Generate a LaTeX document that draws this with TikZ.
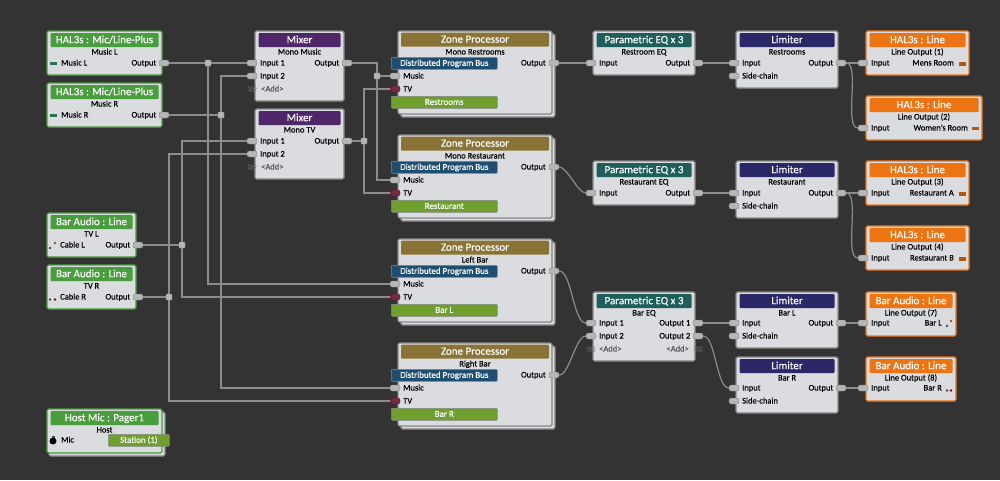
\documentclass[tikz,border=0pt]{standalone}
\usepackage{fontspec}
\setmainfont[FakeBold=0.25]{Carlito}
\usetikzlibrary{patterns}
\definecolor{backdrop}{HTML}{333333}
\definecolor{panel}{HTML}{DADCE0}
\definecolor{rim}{HTML}{858585}
\definecolor{wire}{HTML}{8C8C8C}
\definecolor{plug}{HTML}{B4B6B8}
\definecolor{halgreen}{HTML}{489D3C}
\definecolor{hotorange}{HTML}{EC7412}
\definecolor{mixpurple}{HTML}{4F2768}
\definecolor{zonegold}{HTML}{8A7435}
\definecolor{eqteal}{HTML}{1F5F5B}
\definecolor{limnavy}{HTML}{2B2868}
\definecolor{busblue}{HTML}{1F4E70}
\definecolor{zonegreen}{HTML}{6F9F2C}
\definecolor{tvred}{HTML}{7A2A42}
\newcommand{\halmic}{HAL3s : Mic/Line-Plus}
\begin{document}
\begin{tikzpicture}[
        x=1pt,y=-1pt,
        blockbox/.style={rectangle,anchor=north west,fill=panel,line width=1.3pt,rounded corners=1.5pt,inner sep=0pt,outer sep=0pt},
        headbar/.style={rectangle,anchor=north,rounded corners=1pt,inner sep=0pt,minimum height=14pt,text=white,font=\fontsize{11}{11}\selectfont,text height=7.5pt,text depth=1.5pt},
        subtext/.style={anchor=center,inner sep=0pt,font=\fontsize{8.5}{9}\selectfont,text=black,text height=6.5pt,text depth=1.5pt},
        rowleft/.style={subtext,anchor=west},
        rowright/.style={subtext,anchor=east},
        addtext/.style={rowleft,text=black!65},
        flatbar/.style={rectangle,draw=rim,line width=.6pt,rounded corners=1pt,inner sep=0pt,text=white,font=\fontsize{8.9}{9}\selectfont,text height=6.5pt,text depth=1.5pt,anchor=north west,minimum height=12pt},
        inport/.style={rectangle,rounded corners=2.2pt,fill=plug,draw=black!50,line width=.4pt,inner sep=0pt,minimum width=10pt,minimum height=6pt},
        outport/.style={inport},
        tvport/.style={inport,fill=tvred,draw=tvred!70!black},
        addport/.style={rectangle,rounded corners=1pt,fill=plug!80!black,pattern=north east lines,pattern color=black!55,inner sep=0pt,minimum width=9pt,minimum height=5.5pt},
        junction/.style={rectangle,fill=plug,draw=wire,line width=.4pt,inner sep=0pt,minimum size=6pt,rounded corners=.6pt},
        jack/.style={rectangle,inner sep=0pt,minimum width=7pt,minimum height=3.5pt},
        pin/.style={circle,inner sep=0pt,minimum size=2.8pt,fill=black!70},
        link/.style={draw=wire,line width=1.2pt},
        swoop/.style={out=0,in=180,looseness=.55},
    ]
    \useasboundingbox (0,0) rectangle (1000,480);
    \fill[backdrop] (0,0) rectangle (1000,480);
    % Stacked sheet behind the host mic
    \node[blockbox,draw=rim,minimum width=116pt,minimum height=44pt] (host-back) at (49,412) {};
    % All the plain blocks with their title and subtitle
    \foreach \pos/\name/\boxw/\boxh/\tone/\head/\title/\subtitle in {
            {(47,31)/hml/115/44/halgreen/halgreen/\halmic/Music L},
            {(47,83)/hmr/115/44/halgreen/halgreen/\halmic/Music R},
            {(47,213)/btl/89/44/halgreen/halgreen/Bar Audio : Line/TV L},
            {(47,265)/btr/89/44/halgreen/halgreen/Bar Audio : Line/TV R},
            {(47,409)/host/115/44/halgreen/halgreen/Host Mic : Pager1/Host},
            {(255,31)/mxm/89/70/rim/mixpurple/Mixer/Mono Music},
            {(255,109)/mxt/89/70/rim/mixpurple/Mixer/Mono TV},
            {(593,31)/eqr/102/44/rim/eqteal/Parametric EQ x 3/Restroom EQ},
            {(593,161)/eqe/102/44/rim/eqteal/Parametric EQ x 3/Restaurant EQ},
            {(593,292)/eqb/102/69/rim/eqteal/Parametric EQ x 3/Bar EQ},
            {(736,31)/lrr/102/57/rim/limnavy/Limiter/Restrooms},
            {(736,161)/lre/102/57/rim/limnavy/Limiter/Restaurant},
            {(736,292)/lbl/102/56/rim/limnavy/Limiter/Bar L},
            {(736,357)/lbr/102/56/rim/limnavy/Limiter/Bar R},
            {(866,31)/ho1/103/44/hotorange/hotorange/HAL3s : Line/Line Output (1)},
            {(866,96)/ho2/116/44/hotorange/hotorange/HAL3s : Line/Line Output (2)},
            {(866,161)/ho3/103/44/hotorange/hotorange/HAL3s : Line/Line Output (3)},
            {(866,226)/ho4/103/44/hotorange/hotorange/HAL3s : Line/Line Output (4)},
            {(866,292)/bo7/90/44/hotorange/hotorange/Bar Audio : Line/Line Output (7)},
            {(866,357)/bo8/90/44/hotorange/hotorange/Bar Audio : Line/Line Output (8)}} {
        \node[blockbox,draw=\tone,minimum width=\boxw,minimum height=\boxh] (\name) at \pos {};
        \node[headbar,fill=\head,minimum width=\boxw-7] (\name-head) at ([yshift=-2pt]\name.north) {\title};
        \node[subtext] (\name-sub) at ([yshift=-21pt]\name.north) {\subtitle};
    }
    % Zone processors carry their own bars and ports
    \foreach \name/\rowy/\subtitle/\zone in {
            zrr/31/Mono Restrooms/Restrooms,
            zre/135/Mono Restaurant/Restaurant,
            zlb/239/Left Bar/Bar L,
            zrb/343/Right Bar/Bar R} {
        \node[blockbox,draw=rim,minimum width=154pt,minimum height=83pt] (\name-back) at (401,\rowy+3) {};
        \node[blockbox,draw=rim,minimum width=154pt,minimum height=83pt] (\name) at (398,\rowy) {};
        \node[headbar,fill=zonegold,minimum width=148pt] (\name-head) at ([yshift=-1.5pt]\name.north) {Zone Processor};
        \node[subtext] (\name-sub) at ([yshift=-21pt]\name.north) {\subtitle};
        \node[flatbar,fill=busblue,minimum width=106pt] (\name-bus) at (391,\rowy+26) {Distributed Program Bus};
        \node[inport] (\name-music) at (395,\rowy+45) {};
        \node[rowleft] (\name-musictext) at (403,\rowy+45) {Music};
        \node[tvport] (\name-tv) at (395,\rowy+58) {};
        \node[rowleft] (\name-tvtext) at (403,\rowy+58) {TV};
        \node[flatbar,fill=zonegreen,minimum width=106pt] (\name-bar) at (391,\rowy+65) {\zone};
        \node[outport] (\name-out) at (554,\rowy+32) {};
        \node[rowright] (\name-outtext) at (546,\rowy+32) {Output};
    }
    % Input ports
    \foreach \name/\px/\py/\lbl in {
            mxm-in1/252/63/Input 1, mxm-in2/252/76/Input 2,
            mxt-in1/252/141/Input 1, mxt-in2/252/154/Input 2,
            eqr-in/591/63/Input, eqe-in/591/193/Input,
            eqb-in1/591/323/Input 1, eqb-in2/591/336/Input 2,
            lrr-in/734/63/Input, lrr-sc/734/76/Side-chain,
            lre-in/734/193/Input, lre-sc/734/206/Side-chain,
            lbl-in/734/323/Input, lbl-sc/734/336/Side-chain,
            lbr-in/734/388/Input, lbr-sc/734/401/Side-chain,
            ho1-in/863/63/Input, ho2-in/863/128/Input,
            ho3-in/863/193/Input, ho4-in/863/258/Input,
            bo7-in/863/323/Input, bo8-in/863/388/Input} {
        \node[inport] (\name) at (\px,\py) {};
        \node[rowleft] (\name-text) at (\px+8,\py) {\lbl};
    }
    % Output ports
    \foreach \name/\px/\py/\lbl in {
            hml-out/164/63/Output, hmr-out/164/115/Output,
            btl-out/138/245/Output, btr-out/138/297/Output,
            mxm-out/347/63/Output, mxt-out/347/141/Output,
            eqr-out/698/63/Output, eqe-out/698/193/Output,
            eqb-out1/698/323/Output 1, eqb-out2/698/336/Output 2,
            lrr-out/841/63/Output, lre-out/841/193/Output,
            lbl-out/841/323/Output, lbr-out/841/388/Output} {
        \node[outport] (\name) at (\px,\py) {};
        \node[rowright] (\name-text) at (\px-7.5,\py) {\lbl};
    }
    % Spare ports
    \node[addport] (mxm-add) at (252,89) {};
    \node[addtext] (mxm-addtext) at (261,89) {<Add>};
    \node[addport] (mxt-add) at (252,167) {};
    \node[addtext] (mxt-addtext) at (261,167) {<Add>};
    \node[addport] (eqb-addin) at (591,349) {};
    \node[addtext] (eqb-addintext) at (599,349) {<Add>};
    \node[addport] (eqb-addout) at (698,349) {};
    \node[addtext,anchor=east] (eqb-addouttext) at (689,349) {<Add>};
    % Names and jacks of the end points
    \foreach \name/\px/\py/\lbl in {
            hml-name/61/63/Music L, hmr-name/61/115/Music R,
            btl-name/60/245/Cable L, btr-name/60/297/Cable R,
            host-name/61/440/Mic} {
        \node[rowleft] (\name) at (\px,\py) {\lbl};
    }
    \foreach \name/\px/\py/\lbl in {
            ho1-name/954/63/Mens Room, ho2-name/968/128/Women's Room,
            ho3-name/954/193/Restaurant A, ho4-name/954/258/Restaurant B,
            bo7-name/942/323/Bar L, bo8-name/942/388/Bar R} {
        \node[rowright] (\name) at (\px,\py) {\lbl};
    }
    \foreach \name/\pos/\tone in {
            hml-jack/{(53,63.5)}/eqteal!70!halgreen, hmr-jack/{(53,115.5)}/eqteal!70!halgreen,
            ho1-jack/{(962,64)}/hotorange!75!black, ho2-jack/{(975,128.5)}/hotorange!75!black,
            ho3-jack/{(962,194)}/hotorange!75!black, ho4-jack/{(962,259)}/hotorange!75!black} {
        \node[jack,fill=\tone] (\name) at \pos {};
    }
    \foreach \name/\pos/\tone in {
            btl-pina/{(50,248)}/black!70, btl-pinb/{(55,243)}/brown!70!black,
            btr-pina/{(50,299.5)}/black!70, btr-pinb/{(55,299.5)}/red!60!black,
            bo7-pina/{(947,326)}/black!70, bo7-pinb/{(951,321)}/brown!70!black,
            bo8-pina/{(947,390.5)}/black!70, bo8-pinb/{(951,390.5)}/red!60!black} {
        \node[pin,fill=\tone] (\name) at \pos {};
    }
    \node[circle,fill=black,inner sep=0pt,minimum size=7pt] (host-mic) at (53,441) {};
    \node[rectangle,fill=black!70,inner sep=0pt,minimum width=3pt,minimum height=2pt] (host-micnub) at (53,437) {};
    \node[flatbar,fill=zonegreen,minimum width=61pt] (host-station) at (108,434) {Station (1)};
    % Junctions
    \foreach \name/\pos in {
            jml/{(208,63)}, jmr/{(221,115)},
            jtl/{(182,245)}, jtr/{(169,297)},
            jzm/{(377,76)}, jzt/{(364,141)}}
        \node[junction] (\name) at \pos {};
    % Straight connectors
    \foreach \source/\dest in {
            hml-out/jml, jml/mxm-in1, hmr-out/jmr,
            btl-out/jtl, btr-out/jtr, mxt-out/jzt,
            jzm/zrr-music, zrr-out/eqr-in, eqr-out/lrr-in, eqe-out/lre-in,
            eqb-out1/lbl-in, lrr-out/ho1-in, lre-out/ho3-in,
            lbl-out/bo7-in, lbr-out/bo8-in}
        \path[link] (\source.east) edge (\dest.west);
    % Right-angled connectors
    \foreach \source/\dest in {
            jml.south/zlb-music, jmr.north/mxm-in2, jmr.south/zrb-music,
            jtl.north/mxt-in1, jtl.south/zlb-tv,
            jtr.north/mxt-in2, jtr.south/zrb-tv,
            jzm.south/zre-music, jzt.north/zrr-tv, jzt.south/zre-tv}
        \draw[link] (\source) |- (\dest.west);
    \draw[link] (mxm-out.east) -| (jzm.north);
    % Bent connectors
    \foreach \source/\dest in {
            zre-out/eqe-in, zlb-out/eqb-in1, zrb-out/eqb-in2,
            eqb-out2/lbr-in, lrr-out/ho2-in, lre-out/ho4-in}
        \path[link] (\source.east) edge [swoop] (\dest.west);
\end{tikzpicture}
\end{document}
